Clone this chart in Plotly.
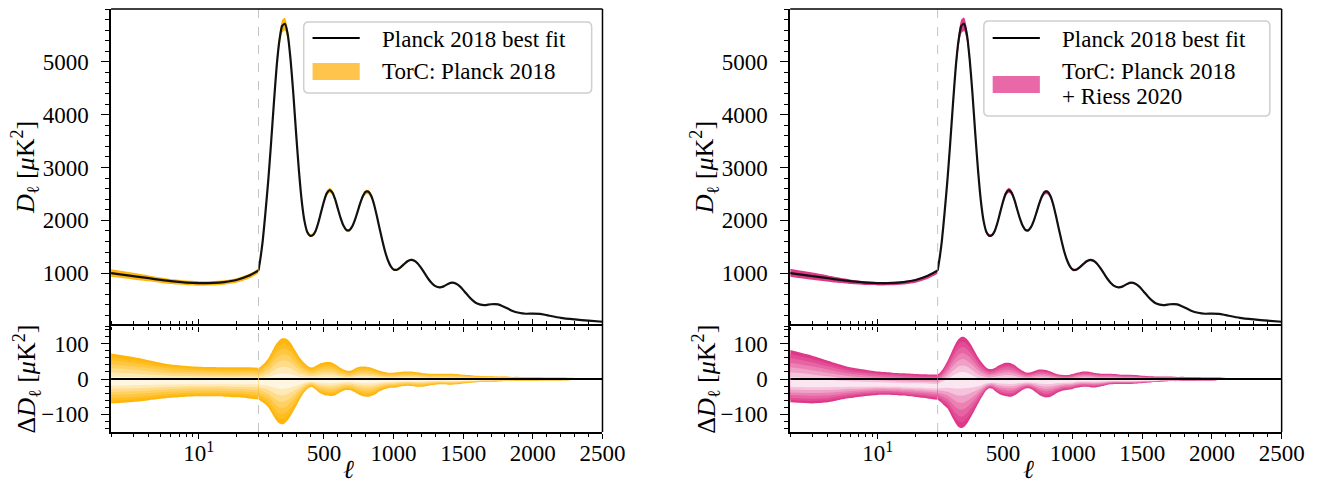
import plotly.graph_objects as go

W, H = 1341, 488

# ---------------- data ----------------
ell_lo = [2, 3, 4, 5, 6, 8, 10, 13, 16, 20, 25, 30]
ell_hi = [30, 45, 60, 80, 100, 120, 140, 160, 180, 200, 220, 240, 260, 280, 300, 320, 340, 360,
          380, 400, 420, 440, 460, 480, 500, 520, 540, 560, 580, 600, 620, 640, 660, 680, 700, 720,
          740, 760, 780, 800, 820, 840, 860, 880, 900, 920, 940, 960, 980, 1000, 1025, 1050, 1075,
          1100, 1125, 1150, 1175, 1200, 1225, 1250, 1275, 1300, 1330, 1360, 1390, 1420, 1450, 1480,
          1510, 1540, 1570, 1600, 1650, 1700, 1750, 1800, 1850, 1900, 1950, 2000, 2050, 2100, 2200,
          2300, 2400, 2500]

# Planck 2018 best fit D_ell [muK^2]
D_lo = [1000, 945, 905, 872, 848, 822, 812, 815, 832, 870, 950, 1050]
D_hi = [1050, 1300, 1600, 2150, 2750, 3450, 4200, 4900, 5400, 5680, 5720, 5520, 5050, 4400, 3650,
        2950, 2380, 1990, 1780, 1710, 1720, 1800, 1960, 2160, 2360, 2510, 2570, 2530, 2400, 2220,
        2040, 1900, 1820, 1810, 1870, 1990, 2150, 2320, 2460, 2540, 2540, 2460, 2300, 2080, 1840,
        1610, 1400, 1240, 1130, 1070, 1065, 1110, 1170, 1225, 1250, 1235, 1180, 1090, 990, 890,
        810, 755, 730, 750, 795, 820, 800, 740, 650, 560, 480, 425, 395, 412, 410, 355, 290, 250,
        232, 235, 230, 205, 155, 125, 100, 80]

# TorC: Planck 2018  -- Delta D_ell outer envelopes and centre
upL_lo = [72, 62, 53, 46, 41, 37, 35, 34, 33, 33, 33, 32]
loL_lo = [-69, -65, -60, -56, -53, -50, -49, -49, -50, -52, -55, -58]
ctL_lo = [-7, -7, -7, -7, -7, -7, -7, -7, -7, -7, -6, -6]
upL_hi = [32, 35, 40, 48, 58, 72, 88, 101, 110, 115, 115, 111, 103, 90, 77, 64, 54, 45, 38, 33, 33,
          37, 41, 45, 47, 48, 48, 46, 42, 37, 31, 27, 24, 23, 25, 29, 33, 35, 35, 35, 34, 32, 29, 26,
          23, 21, 19, 18, 18, 18, 19, 20, 21, 21, 21, 20, 19, 17, 16, 15, 15, 15, 15, 15, 15, 15, 14,
          13, 12, 11, 10, 9, 8, 8, 7, 7, 6, 6, 5, 5, 5, 4, 4, 3, 2, 2]
loL_hi = [-58, -62, -66, -72, -80, -93, -106, -118, -126, -128, -125, -117, -105, -91, -77, -62, -49,
          -37, -28, -23, -24, -30, -37, -42, -45, -47, -48, -48, -46, -42, -37, -33, -31, -31, -33,
          -37, -42, -46, -49, -50, -50, -48, -45, -40, -35, -31, -28, -26, -25, -25, -23, -21, -20,
          -19, -20, -21, -22, -22, -21, -19, -17, -16, -15, -15, -16, -16, -15, -14, -12, -11, -10,
          -9, -8, -8, -7, -6, -6, -5, -5, -5, -4, -4, -4, -3, -2, -2]
ctL_hi = [-6, -6, -6, -6, -6, -6, -6, -6, -6, -6, -6, -6, -6, -6, -6, -6, -6, -4, -4, -4, -4, -4, -4,
          -4, -4, -4, -4, -4, -4, -4, -4, -4, -4, -4, -4, -4, -4, -4, -4, -4, -4, -4, -4, -4, -4, -4,
          -4, -4, -4, -4, -3, -3, -3, -3, -3, -3, -3, -3, -3, -3, -3, -3, -3, -3, -3, -3, -3, -3, -3,
          -3, -3, -3, -1, -1, -1, -1, -1, -1, -1, -1, -1, -1, -1, -1, -1, -1]

# TorC: Planck 2018 + Riess 2020
upR_lo = [82, 66, 52, 41, 33, 26, 21, 18, 16, 14, 13, 13]
loR_lo = [-66, -69, -66, -59, -54, -48, -45, -45, -47, -51, -55, -59]
ctR_lo = [-12, -13, -14, -15, -15, -16, -16, -17, -18, -18, -19, -20]
upR_hi = [13, 17, 24, 36, 50, 67, 85, 101, 113, 119, 119, 113, 103, 90, 76, 62, 50, 40, 32, 28, 28,
          31, 36, 40, 44, 46, 46, 44, 40, 34, 28, 23, 19, 18, 19, 22, 25, 27, 27, 26, 24, 21, 18, 15,
          13, 12, 11, 11, 12, 14, 17, 19, 21, 21, 20, 18, 16, 15, 15, 15, 15, 14, 13, 12, 12, 12, 11,
          10, 9, 8, 8, 7, 7, 7, 6, 6, 5, 5, 4, 4, 4, 3, 3, 2, 2, 1]
loR_hi = [-59, -63, -68, -76, -83, -97, -112, -126, -136, -139, -136, -127, -114, -100, -85, -70, -56,
          -43, -32, -26, -27, -33, -39, -44, -47, -49, -50, -50, -47, -42, -36, -31, -27, -26, -28,
          -33, -39, -45, -49, -52, -52, -50, -46, -41, -37, -34, -32, -31, -30, -28, -25, -23, -22,
          -22, -23, -24, -23, -21, -19, -16, -15, -14, -14, -14, -14, -14, -13, -12, -11, -10, -9,
          -8, -7, -6, -6, -5, -5, -4, -4, -4, -3, -3, -3, -2, -2, -1]
ctR_hi = [-20, -18, -16, -14, -12, -10, -7, -5, -3, -2, -2, -3, -5, -7, -9, -10, -10, -9, -8, -8, -6,
          -6, -6, -6, -6, -6, -6, -6, -6, -6, -6, -6, -6, -6, -6, -6, -6, -6, -6, -6, -6, -6, -6, -6,
          -6, -6, -6, -6, -6, -6, -4, -4, -4, -4, -4, -4, -4, -4, -4, -4, -4, -4, -4, -4, -4, -4, -4,
          -4, -4, -4, -4, -4, -2, -2, -2, -2, -2, -2, -2, -2, -2, -2, -2, -2, -2, -2]

x_lin_ticks = [500, 1000, 1500, 2000, 2500]
x_log_ticks = [10]
x_log_ticktext = ["10<sup>1</sup>"]
y_top_ticks = [1000, 2000, 3000, 4000, 5000]
y_bot_ticks = [-100, 0, 100]

legend_line = "Planck 2018 best fit"
legend_L = ["TorC: Planck 2018"]
legend_R = ["TorC: Planck 2018", "+ Riess 2020"]

# ---------------- styles ----------------
FONT = "Liberation Serif"
FS_TICK = 23
FS_LEG = 23
FS_TITLE = 26
ORANGE = (255, 182, 10)
PINK = (223, 56, 137)
ORANGE_LEG = "rgb(255,196,76)"
PINK_LEG = "rgb(232,104,168)"
layer_fracs = [1.0, 0.88, 0.76, 0.62, 0.48, 0.33, 0.18]
layer_mix = [0.0, 0.10, 0.22, 0.36, 0.52, 0.70, 0.88]


def px(x):
    return x / W


def py(y):
    return 1 - y / H


def mixc(c, t):
    r, g, b = (round(v + (255 - v) * t) for v in c)
    return f"rgb({r},{g},{b})"


# panel geometry in pixels
Y_TOP, Y_MID, Y_BOT = 9, 326, 432
PANELS = [
    dict(x0=113, xs=263, x1=613, ax=(1, 2, 3, 4), ay=(1, 2), color=ORANGE, leg=ORANGE_LEG,
         data=(upL_lo, loL_lo, ctL_lo, upL_hi, loL_hi, ctL_hi), ytx=25, xlab=355,
         legbox=(309, 22, 602, 93), legtxt=legend_L),
    dict(x0=804, xs=954, x1=1304, ax=(5, 6, 7, 8), ay=(3, 4), color=PINK, leg=PINK_LEG,
         data=(upR_lo, loR_lo, ctR_lo, upR_hi, loR_hi, ctR_hi), ytx=716, xlab=1046,
         legbox=(1001, 21, 1292, 116), legtxt=legend_R),
]

fig = go.Figure()


def nm(prefix, i):
    return prefix if i == 1 else f"{prefix}{i}"


def add_fill(xa, ya, xs, ylo, yup, color):
    common = dict(xaxis=xa, yaxis=ya, mode="lines", showlegend=False, hoverinfo="skip",
                  line=dict(width=0, color=color, shape="spline", smoothing=0.6))
    fig.add_trace(go.Scatter(x=xs, y=ylo, **common))
    fig.add_trace(go.Scatter(x=xs, y=yup, fill="tonexty", fillcolor=color, **common))


layout = {}
shapes = []
annotations = []

for P in PANELS:
    a1, a2, a3, a4 = P["ax"]
    yt, yb = P["ay"]
    up_lo, lo_lo, ct_lo, up_hi, lo_hi, ct_hi = P["data"]
    segs = [(nm("x", a1), nm("x", a3), ell_lo, D_lo, up_lo, lo_lo, ct_lo),
            (nm("x", a2), nm("x", a4), ell_hi, D_hi, up_hi, lo_hi, ct_hi)]
    for xt, xb, ell, D, up, lo, ct in segs:
        # lower panel: nested credibility layers
        for f, t in zip(layer_fracs, layer_mix):
            ylo = [c + f * (l - c) for c, l in zip(ct, lo)]
            yup = [c + f * (u - c) for c, u in zip(ct, up)]
            add_fill(xb, nm("y", yb), ell, ylo, yup, mixc(P["color"], t))
        fig.add_trace(go.Scatter(x=ell, y=[0 for _ in ell], xaxis=xb, yaxis=nm("y", yb),
                                 mode="lines", line=dict(color="black", width=2),
                                 showlegend=False, hoverinfo="skip"))
        # upper panel: band + best fit
        add_fill(xt, nm("y", yt), ell, [d + l for d, l in zip(D, lo)],
                 [d + u for d, u in zip(D, up)], mixc(P["color"], 0.0))
        fig.add_trace(go.Scatter(x=ell, y=D, xaxis=xt, yaxis=nm("y", yt), mode="lines",
                                 line=dict(color="#111111", width=2.2, shape="spline",
                                           smoothing=0.6),
                                 showlegend=False, hoverinfo="skip"))

    dom_log = [px(P["x0"]), px(P["xs"])]
    dom_lin = [px(P["xs"]), px(P["x1"])]
    dom_top = [py(Y_MID), py(Y_TOP)]
    dom_bot = [py(Y_BOT), py(Y_MID)]
    tickc = dict(ticks="outside", tickcolor="black", tickwidth=1.3, ticklen=5,
                 showgrid=False, zeroline=False, linecolor="black",
                 linewidth=1.5, tickfont=dict(size=FS_TICK))
    minor_log = dict(tickmode="array", tickvals=[2, 3, 4, 5, 6, 7, 8, 9, 20, 30],
                     ticks="outside", ticklen=3, tickcolor="black", tickwidth=1)
    minor_lin = dict(dtick=100, tick0=0, ticks="outside", ticklen=3, tickcolor="black",
                     tickwidth=1)
    # top panel x axes (ticks only; frame lines come from the lower panel / shapes)
    layout[nm("xaxis", a1)] = dict(type="log", domain=dom_log, anchor=nm("y", yt),
                                   range=[0.30103, 1.47712], tickvals=x_log_ticks,
                                   showticklabels=False, showline=False, minor=minor_log,
                                   **tickc)
    layout[nm("xaxis", a2)] = dict(type="linear", domain=dom_lin, anchor=nm("y", yt),
                                   range=[30, 2500], tickvals=x_lin_ticks,
                                   showticklabels=False, showline=False, minor=minor_lin,
                                   **tickc)
    # bottom panel x axes
    layout[nm("xaxis", a3)] = dict(type="log", domain=dom_log, anchor=nm("y", yb),
                                   range=[0.30103, 1.47712], tickvals=x_log_ticks,
                                   ticktext=x_log_ticktext, showline=True, mirror="ticks",
                                   minor=minor_log, ticklabelstandoff=-5, **tickc)
    layout[nm("xaxis", a4)] = dict(type="linear", domain=dom_lin, anchor=nm("y", yb),
                                   range=[30, 2500], tickvals=x_lin_ticks, showline=True,
                                   mirror="ticks", minor=minor_lin, ticklabelstandoff=-5,
                                   **tickc)
    ytick = dict(ticks="outside", tickcolor="black", tickwidth=1.3, ticklen=8, showgrid=False,
                 zeroline=False, showline=True, linecolor="black", linewidth=1.5,
                 ticklabelstandoff=8, tickfont=dict(size=FS_TICK))
    layout[nm("yaxis", yt)] = dict(domain=dom_top, anchor=nm("x", a1), range=[0, 6000],
                                   tickvals=y_top_ticks,
                                   minor=dict(dtick=200, tick0=0, ticks="outside", ticklen=4.5,
                                              tickcolor="black", tickwidth=1), **ytick)
    layout[nm("yaxis", yb)] = dict(domain=dom_bot, anchor=nm("x", a3), range=[-150, 150],
                                   tickvals=y_bot_ticks,
                                   minor=dict(dtick=20, tick0=0, ticks="outside", ticklen=4.5,
                                              tickcolor="black", tickwidth=1), **ytick)

    # top and right frame edges, ell=30 divider
    shapes.append(dict(type="line", xref="paper", yref="paper", x0=px(P["x0"]), x1=px(P["x1"]),
                       y0=py(Y_TOP), y1=py(Y_TOP), line=dict(color="black", width=1.5)))
    shapes.append(dict(type="line", xref="paper", yref="paper", x0=px(P["x1"]), x1=px(P["x1"]),
                       y0=py(Y_TOP), y1=py(Y_BOT), line=dict(color="black", width=1.5)))
    shapes.append(dict(type="line", xref="paper", yref="paper", x0=px(P["xs"]), x1=px(P["xs"]),
                       y0=py(Y_TOP), y1=py(Y_BOT), layer="below",
                       line=dict(color="#c4c4c4", width=1, dash="dash")))

    # axis titles
    annotations.append(dict(text="<i>D</i><sub>ℓ</sub> [<i>μ</i>K<sup>2</sup>]", textangle=-90,
                            x=px(P["ytx"]), y=py((Y_TOP + Y_MID) / 2), xref="paper",
                            yref="paper", showarrow=False, xanchor="center", yanchor="middle",
                            font=dict(size=FS_TITLE)))
    annotations.append(dict(text="Δ<i>D</i><sub>ℓ</sub> [<i>μ</i>K<sup>2</sup>]", textangle=-90,
                            x=px(P["ytx"] + 2), y=py((Y_MID + Y_BOT) / 2), xref="paper",
                            yref="paper", showarrow=False, xanchor="center", yanchor="middle",
                            font=dict(size=FS_TITLE)))
    annotations.append(dict(text="<i>ℓ</i>", x=px(P["xlab"]), y=py(486), xref="paper",
                            yref="paper", showarrow=False, xanchor="center", yanchor="bottom",
                            height=24, valign="bottom", font=dict(size=FS_TITLE)))

    # legend (drawn box, samples and text)
    bx0, by0, bx1, by1 = P["legbox"]
    r = 5
    path = (f"M {px(bx0 + r)},{py(by0)} L {px(bx1 - r)},{py(by0)} "
            f"Q {px(bx1)},{py(by0)} {px(bx1)},{py(by0 + r)} L {px(bx1)},{py(by1 - r)} "
            f"Q {px(bx1)},{py(by1)} {px(bx1 - r)},{py(by1)} L {px(bx0 + r)},{py(by1)} "
            f"Q {px(bx0)},{py(by1)} {px(bx0)},{py(by1 - r)} L {px(bx0)},{py(by0 + r)} "
            f"Q {px(bx0)},{py(by0)} {px(bx0 + r)},{py(by0)} Z")
    shapes.append(dict(type="path", path=path, xref="paper", yref="paper",
                       fillcolor="rgba(255,255,255,0.85)", line=dict(color="#cfcfcf", width=1.5)))
    sx0, sx1 = bx0 + 9, bx0 + 57
    shapes.append(dict(type="line", xref="paper", yref="paper", x0=px(sx0), x1=px(sx1),
                       y0=py(38), y1=py(38), line=dict(color="black", width=2)))
    pc = 71.5 if len(P["legtxt"]) == 1 else 84.5
    shapes.append(dict(type="rect", xref="paper", yref="paper", x0=px(sx0), x1=px(sx1),
                       y0=py(pc - 8.5), y1=py(pc + 8.5), fillcolor=P["leg"], line=dict(width=0)))
    tx = bx0 + 78
    annotations.append(dict(text=legend_line, x=px(tx), y=py(40), xref="paper", yref="paper",
                            showarrow=False, xanchor="left", yanchor="middle",
                            font=dict(size=FS_LEG)))
    for k, t in enumerate(P["legtxt"]):
        annotations.append(dict(text=t, x=px(tx), y=py(72 + 24 * k), xref="paper", yref="paper",
                                showarrow=False, xanchor="left", yanchor="middle",
                                font=dict(size=FS_LEG)))

fig.update_layout(
    width=W, height=H, autosize=False,
    margin=dict(l=0, r=0, t=0, b=0),
    paper_bgcolor="white", plot_bgcolor="white",
    font=dict(family=FONT, size=FS_TICK, color="black"),
    showlegend=False,
    shapes=shapes, annotations=annotations,
    **layout,
)

fig.write_html("out.html")
